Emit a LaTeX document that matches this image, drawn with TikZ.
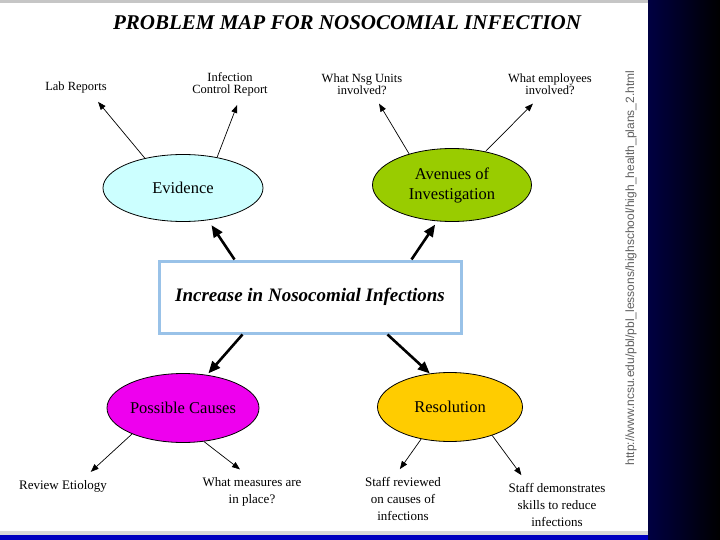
\documentclass[tikz,border=0pt]{standalone}
\usepackage{fontspec}
\setmainfont{Liberation Serif}
\newfontfamily\urlfont{Liberation Sans}
\usetikzlibrary{shapes.geometric,arrows.meta}
\definecolor{evcol}{RGB}{204,255,255}
\definecolor{avcol}{RGB}{153,204,0}
\definecolor{pccol}{RGB}{238,0,238}
\definecolor{rscol}{RGB}{255,204,0}
\definecolor{boxcol}{RGB}{153,194,232}
\definecolor{navy}{RGB}{0,0,66}
\definecolor{urlgray}{RGB}{95,95,95}
\begin{document}
\begin{tikzpicture}[x=1pt,y=-1pt,
  bubble/.style={ellipse,draw,line width=0.8pt,inner sep=0pt,align=center,font=\fontsize{16.5}{20}\selectfont},
  toplbl/.style={align=center,inner xsep=2pt,inner ysep=9pt,font=\fontsize{12.5}{12}\selectfont},
  botlbl/.style={align=center,inner xsep=2pt,inner ysep=8pt,font=\fontsize{13}{17}\selectfont},
  thinarr/.style={-{Triangle[length=8pt,width=6pt]},line width=0.7pt},
  thickarr/.style={-{Triangle[length=12pt,width=10pt]},line width=2.6pt}]
\fill[white] (0,0) rectangle (720,540);
\useasboundingbox (0,0) rectangle (720,540);
\fill[gray!45] (0,0) rectangle (648,3);
\fill[gray!30] (0,531) rectangle (648,535);
\fill[blue!75!black] (0,535) rectangle (648,540);
\shade[left color=navy,right color=black] (648,0) rectangle (720,540);
\node (title) at (347,23) {\fontsize{21}{24}\selectfont\bfseries\itshape PROBLEM MAP FOR NOSOCOMIAL INFECTION};
\node[rotate=90,text=urlgray,font=\urlfont\fontsize{12}{14}\selectfont] (url) at (631,268) {http://www.ncsu.edu/pbl/pbl\_lessons/highschool/high\_health\_plans\_2.html};
\node[bubble,fill=evcol,minimum width=160pt,minimum height=67pt] (ev) at (183,188) {Evidence};
\node[bubble,fill=avcol,minimum width=159pt,minimum height=73pt] (ave) at (452,185) {Avenues of\\Investigation};
\node[bubble,fill=pccol,minimum width=152pt,minimum height=69pt] (cause) at (183,408) {Possible Causes};
\node[bubble,fill=rscol,minimum width=145pt,minimum height=69pt] (res) at (450,407) {Resolution};
\node[draw=boxcol,line width=3pt,minimum width=302pt,minimum height=72pt,font=\fontsize{19}{20}\selectfont\bfseries\itshape] (inc) at (310,297) {Increase in Nosocomial Infections};
\node[toplbl] (lab) at (76,87) {Lab Reports};
\node[toplbl] (icr) at (230,84) {Infection\\Control Report};
\node[toplbl] (nsg) at (362,84) {What Nsg Units\\involved?};
\node[toplbl] (emp) at (550,84) {What employees\\involved?};
\node[botlbl] (etio) at (63,486) {Review Etiology};
\node[botlbl] (meas) at (252,492) {What measures are\\in place?};
\node[botlbl] (revd) at (403,499) {Staff reviewed\\on causes of\\infections};
\node[botlbl] (demo) at (557,505) {Staff demonstrates\\skills to reduce\\infections};
\draw[thinarr] (ev.142) -- (lab.-34);
\draw[thinarr] (ev.42) -- (icr.-71);
\draw[thinarr] (ave.144) -- (nsg.-49);
\draw[thinarr] (ave.45) -- (emp.-131);
\draw[thickarr,shorten >=6pt] (inc.north west) ++(77,0) -- (ev.-52);
\draw[thickarr,shorten >=4pt] (inc.north west) ++(254,0) -- (ave.-112);
\draw[thickarr,shorten >=2pt] (inc.south west) ++(85,0) -- (cause.54);
\draw[thickarr] (inc.south west) ++(230,0) -- (res.121);
\draw[thinarr] (cause.-153) -- (etio.27);
\draw[thinarr] (cause.-58) -- (meas.118);
\draw[thinarr] (res.-132) -- (revd.96);
\draw[thinarr] (res.-34) -- (demo.140);
\end{tikzpicture}
\end{document}
